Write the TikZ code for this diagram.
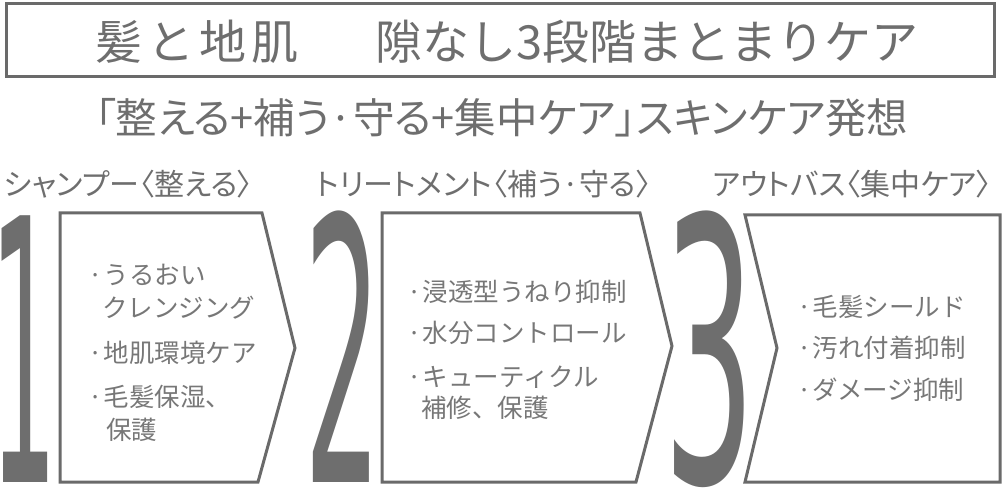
\documentclass[tikz,border=0pt]{standalone}
\usepackage{graphicx}
\usepackage{fontspec}
\newfontfamily\jp{Noto Sans CJK JP}
\newfontfamily\jpp{Noto Sans CJK JP}[RawFeature=+palt]
\newfontfamily\numfont{DejaVu Sans}
\definecolor{linegray}{HTML}{6A6A6A}
\definecolor{textgray}{HTML}{6E6E6E}
\definecolor{itemgray}{HTML}{777777}
\definecolor{numgray}{HTML}{6E6E6E}
\tikzset{
  boxline/.style={draw=linegray, line width=3bp, line join=miter},
  titletext/.style={text=textgray, font=\jp\fontsize{47bp}{52bp}\selectfont, inner sep=0, anchor=west},
  subtext/.style={text=textgray, font=\jpp\fontsize{41.5bp}{46bp}\selectfont, inner sep=0, anchor=west},
  head/.style={text=textgray, font=\jpp\fontsize{30bp}{34bp}\selectfont, inner sep=0, anchor=west},
  item/.style={text=itemgray, font=\jp\fontsize{25.5bp}{30bp}\selectfont, inner sep=0, anchor=west},
  bignum/.style={text=numgray, inner sep=0, anchor=base, text height=267bp, text depth=0bp,
    font=\numfont\fontsize{100bp}{100bp}\selectfont},
}
\begin{document}
\begin{tikzpicture}[x=1bp,y=-1bp]
\useasboundingbox (0,0) rectangle (1004,488);
% title
\draw[boxline] (6,4) rectangle (994,77);
\node[titletext] (t1) at (95,42) {髪\kern5bp と\kern5bp 地\kern5bp 肌};
\node[titletext] (t2) at (375,42) {隙なし3段階まとまりケア};
% subtitle
\node[subtext] (sub) at (95,118) {「整える+補う·守る+集中ケア」スキンケア発想};
% headers
\node[head] (h1) at (4,184) {シャンプー〈整える〉};
\node[head] (h2) at (316,184) {トリートメント〈補う·守る〉};
\node[head] (h3) at (712,184) {アウトバス〈集中ケア〉};
% big numbers
\node[bignum] (n1) at (24,482) {\makebox[47bp]{\scalebox{1.05}[3.66]{1}}};
\node[bignum] (n2) at (342.5,482) {\makebox[59bp]{\scalebox{1.21}[3.66]{2}}};
\node[bignum] (n3) at (710,482) {\makebox[70bp]{\scalebox{1.45}[3.66]{3}}};
% boxes
\draw[boxline] (60,213) -- (262,213) -- (295,348) -- (258,482) -- (60,482) -- cycle;
\draw[boxline] (382,213) -- (640,213) -- (672,346) -- (636,482) -- (382,482) -- cycle;
\draw[boxline] (745,215) -- (1000,215) -- (1000,482) -- (745,482) -- (777,348) -- cycle;
% items box 1
\node[item] (a1) at (88,275) {·\kern1bp うるおい};
\node[item] (a2) at (102,308) {クレンジング};
\node[item] (a3) at (88,353) {·\kern1bp 地肌環境ケア};
\node[item] (a4) at (88,397) {·\kern1bp 毛髪保湿、};
\node[item] (a5) at (106,430) {保護};
% items box 2
\node[item] (b1) at (407,292) {·\kern1bp 浸透型うねり抑制};
\node[item] (b2) at (407,333) {·\kern1bp 水分コントロール};
\node[item] (b3) at (407,377) {·\kern1bp キューティクル};
\node[item] (b4) at (421,408) {補修、保護};
% items box 3
\node[item] (c1) at (797,307) {·\kern1bp 毛髪シールド};
\node[item] (c2) at (797,348) {·\kern1bp 汚れ付着抑制};
\node[item] (c3) at (797,390) {·\kern1bp ダメージ抑制};
\end{tikzpicture}
\end{document}
